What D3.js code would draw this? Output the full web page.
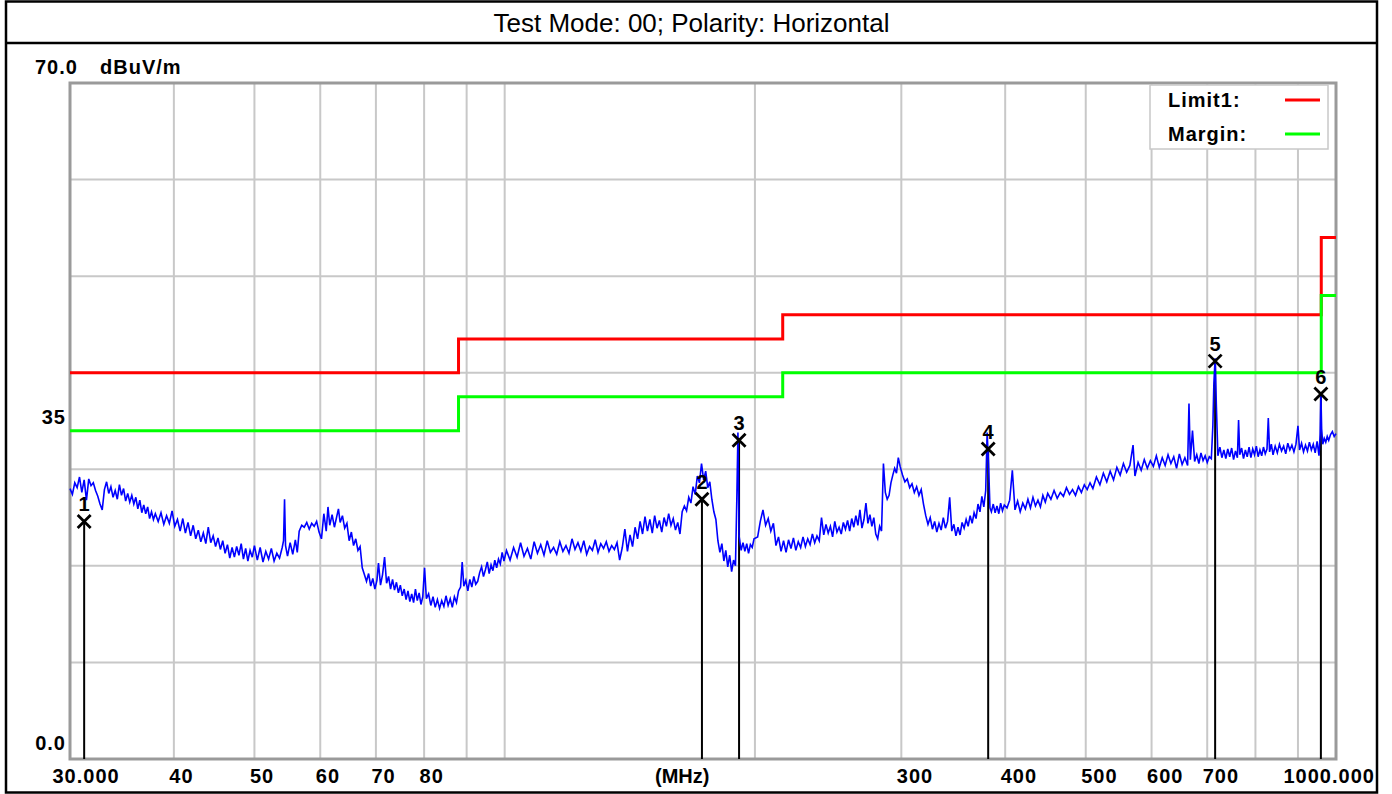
<!DOCTYPE html>
<html>
<head>
<meta charset="utf-8">
<script src="https://cdn.jsdelivr.net/npm/d3@7"></script>
<style>
  body { margin: 0; background: #fff; }
  text { font-family: "Liberation Sans", Arial, sans-serif; }
</style>
</head>
<body>
<div id="chart"></div>
<script>
var chartTitle = 'Test Mode: 00; Polarity: Horizontal';
var unitLabel = 'dBuV/m';
var freqUnit = '(MHz)';

var freqTicks = [30, 40, 50, 60, 70, 80, 300, 400, 500, 600, 700, 1000];
var freqTickLabels = ['30.000', '40', '50', '60', '70', '80', '300', '400', '500', '600', '700', '1000.000'];
var freqGrid = [40, 50, 60, 70, 80, 90, 100, 200, 300, 400, 500, 600, 700, 800, 900];
var levelGrid = [10, 20, 30, 40, 50, 60];
var levelTicks = [70, 35, 0];
var levelTickLabels = ['70.0', '35', '0.0'];

// limit / margin steps: [MHz, dBuV/m], step after
var limit1 = [[30, 40], [88, 43.5], [216, 46], [960, 54], [1000, 54]];
var margin = [[30, 34], [88, 37.5], [216, 40], [960, 48], [1000, 48]];

var markerIds = ['1', '2', '3', '4', '5', '6'];
var markerFreq = [31.2, 172.7, 191.4, 381.6, 715.5, 959];
var markerLevel = [24.6, 26.9, 33.0, 32.1, 41.2, 37.8];

var legendNames = ['Limit1:', 'Margin:'];
var legendColors = ['#ff0000', '#00ff00'];

var trace = [
  [30.0,28.0],[30.2,27.4],[30.4,28.6],[30.6,28.1],[30.8,29.2],[31.0,27.6],[31.2,28.9],[31.4,26.8],[31.6,29.0],[31.8,28.3],
  [32.0,28.6],[32.2,27.8],[32.4,27.2],[32.6,26.4],[32.8,25.8],[33.0,27.9],[33.2,28.7],[33.4,27.5],[33.6,28.2],[33.8,27.1],
  [34.0,27.8],[34.2,26.9],[34.4,28.4],[34.6,27.3],[34.8,28.0],[35.0,26.7],[35.2,27.5],[35.4,26.6],[35.6,27.3],[35.8,26.4],
  [36.0,27.1],[36.2,25.9],[36.4,26.8],[36.6,25.5],[36.8,26.3],[37.0,25.4],[37.2,26.1],[37.4,24.9],[37.6,25.6],[37.8,24.8],
  [38.0,25.4],[38.3,24.6],[38.6,25.5],[38.9,24.3],[39.2,25.2],[39.5,24.4],[39.8,25.7],[40.1,24.1],
  [40.4,24.8],[40.7,23.6],[41.0,24.9],[41.3,23.4],[41.6,24.5],[41.9,23.1],[42.2,24.2],[42.5,22.8],[42.8,23.7],[43.1,22.5],
  [43.4,23.4],[43.7,22.3],[44.0,24.0],[44.3,22.4],[44.6,23.1],[44.9,22.0],[45.2,22.9],[45.5,21.7],[45.8,22.6],[46.1,21.3],
  [46.4,22.2],[46.7,20.8],[47.0,21.9],[47.3,20.9],[47.6,22.0],[47.9,21.1],[48.2,22.3],[48.5,20.7],[48.8,21.8],[49.1,20.5],
  [49.4,21.6],[49.7,20.9],[50.0,22.1],
  [50.4,20.6],[50.8,21.9],[51.2,20.4],[51.6,21.5],[52.0,20.7],[52.4,21.8],[52.8,20.5],[53.2,21.3],[53.6,20.8],[54.0,21.9],
  [54.2,22.6],[54.35,26.9],[54.5,22.1],[54.8,21.0],[55.2,22.4],[55.6,21.2],[56.0,22.7],[56.3,21.4],[56.6,23.6],[57.0,24.2],
  [57.4,24.0],[57.8,24.5],[58.2,23.8],[58.6,24.4],[59.0,24.1],[59.4,24.6],[59.8,23.5],
  [60.2,22.8],[60.6,25.4],[61.0,23.6],[61.3,26.1],[61.6,24.2],[62.0,25.3],[62.4,24.0],[62.8,25.1],[63.1,25.9],[63.4,24.5],
  [63.8,25.2],[64.2,23.9],[64.6,24.4],[65.0,22.6],[65.4,23.5],[65.8,22.1],[66.2,22.8],[66.6,21.6],[67.0,22.0],[67.4,19.8],
  [67.8,19.1],[68.2,18.4],[68.6,19.2],[69.0,17.9],[69.4,18.7],[69.8,17.6],
  [70.2,18.5],[70.5,20.3],[70.9,18.0],[71.3,19.1],[71.7,20.9],[72.1,18.2],[72.5,18.9],[72.9,17.6],[73.3,18.6],[73.7,17.5],
  [74.1,18.3],[74.5,17.2],[74.9,18.0],[75.3,16.9],[75.7,17.6],[76.1,16.5],[76.5,17.4],[76.9,16.3],[77.3,17.1],[77.7,16.2],
  [78.1,17.6],[78.5,16.4],[78.9,17.2],[79.3,16.0],[79.7,16.8],[80.1,19.8],
  [80.5,16.6],[81.0,17.1],[81.5,15.9],[82.0,16.8],[82.5,15.7],[83.0,16.5],[83.5,15.6],[84.0,16.4],[84.5,15.8],[85.0,16.9],
  [85.5,15.9],[86.0,16.6],[86.5,15.7],[87.0,16.8],[87.5,16.2],[88.0,17.4],[88.5,17.8],[88.9,20.4],[89.3,17.9],[89.8,18.5],
  [90.3,17.4],[90.8,18.6],[91.3,17.8],[91.8,18.9],[92.3,18.1],[92.8,18.4],[93.3,19.3],[93.8,19.9],[94.3,18.9],[94.8,19.6],
  [95.3,20.4],[95.8,19.2],[96.3,20.1],[96.8,19.5],[97.3,20.6],[97.8,19.8],[98.3,20.7],[98.8,20.2],[99.3,21.4],[99.8,20.5],
  [100.5,21.6],[101.5,20.6],[102.5,21.9],[103.5,20.9],[104.5,22.4],[105.5,21.0],[106.5,21.8],[107.5,20.7],[108.5,22.5],[109.5,21.3],
  [110.5,22.2],[111.5,21.1],[112.5,22.6],[113.5,21.4],[114.5,21.9],[115.5,21.2],[116.5,22.5],[117.5,21.5],[118.5,22.1],[119.5,21.3],
  [120.5,22.8],[121.5,21.7],[122.5,22.4],[123.5,21.5],[124.5,22.6],[125.5,21.2],[126.5,22.0],[127.5,21.6],[128.5,22.7],[129.5,21.4],
  [130.5,22.3],[131.5,21.8],[132.5,22.5],[133.5,21.5],[134.5,22.1],[135.5,21.7],[136.5,22.4],[137.5,20.6],[138.5,21.9],[139.5,23.8],
  [140.5,21.5],[141.5,23.2],[142.5,22.0],[143.5,24.0],[144.5,22.8],[145.5,24.6],[146.5,23.3],[147.5,25.1],[148.5,23.6],[149.5,24.8],
  [150.5,23.4],[151.5,25.2],[152.5,23.9],[153.5,24.7],[154.5,23.5],[155.5,25.0],[156.5,24.1],[157.5,25.4],[158.5,24.2],[159.5,24.9],
  [160.5,23.7],[161.5,24.5],[162.5,23.3],[163.5,25.6],[164.5,26.2],[165.5,25.7],[166.5,27.1],[167.5,26.5],[168.5,28.2],[169.5,27.4],
  [170.5,29.3],[171.5,28.6],[172.5,30.6],[173.5,28.9],[174.5,29.8],[175.5,28.1],[176.5,28.7],[177.5,26.9],[178.5,25.6],[179.5,24.8],
  [180.5,22.6],[181.5,21.4],[182.5,22.3],[183.5,20.5],[184.5,21.6],[185.5,19.9],[186.5,21.1],[187.5,19.4],[188.5,20.6],[189.5,20.0],
  [190.2,26.8],[190.8,33.8],[191.4,23.1],[192.5,21.6],[193.5,22.4],[194.5,21.5],[195.5,22.3],[196.5,21.3],[197.5,22.2],[198.5,21.9],
  [199.5,22.8],
  [201.5,23.0],[203.0,24.6],[204.5,25.8],[206.0,24.2],[207.5,24.9],[209.0,23.6],[210.5,24.4],[212.0,22.1],[213.5,23.0],[215.0,21.5],
  [216.5,22.6],[218.0,21.4],[219.5,22.7],[221.0,21.8],[222.5,22.9],[224.0,21.6],[225.5,22.5],[227.0,21.9],[228.5,23.0],[230.0,22.0],
  [231.5,22.8],[233.0,22.2],[234.5,23.3],[236.0,22.4],[237.5,23.1],[239.0,22.6],[240.5,25.0],[242.0,23.2],[243.5,24.3],[245.0,23.4],
  [246.5,24.1],[248.0,23.0],[249.5,24.6],[251.0,23.5],[252.5,24.0],[254.0,23.3],[255.5,24.5],[257.0,23.8],[258.5,24.7],[260.0,23.6],
  [261.5,24.9],[263.0,24.0],[264.5,25.2],[266.0,24.2],[267.5,25.8],[269.0,23.9],[270.5,24.8],[272.0,26.5],[273.5,24.4],[275.0,25.3],
  [276.5,24.1],[278.0,25.0],[279.5,23.3],[281.0,22.8],[282.5,24.1],[284.0,23.6],[285.5,30.6],[287.0,27.6],[288.5,26.9],[290.0,27.3],
  [291.5,28.6],[293.0,29.4],[294.5,30.1],[296.0,29.6],[297.5,31.2],[299.0,30.3],
  [301,29.4],[303,28.7],[305,29.0],[307,28.1],[309,28.5],[311,27.6],[313,28.2],[315,27.3],[317,27.9],[319,26.4],
  [321,25.2],[323,24.3],[325,25.0],[327,23.8],[329,24.6],[331,23.5],[333,24.4],[335,23.7],[337,25.0],[339,23.9],
  [341,24.6],[343,27.1],[345,23.6],[347,24.3],[349,23.1],[351,24.0],[353,23.2],[355,24.5],[357,23.9],[359,24.8],
  [361,24.1],[363,25.2],[365,24.4],[367,25.5],[369,24.9],[371,26.4],[373,25.6],[375,27.2],[377,26.1],[379,27.8],
  [380.5,33.8],[382,30.5],[383.5,26.0],[385,25.6],[387,26.4],[389,25.5],[391,26.2],[393,25.4],[395,26.5],[397,25.7],
  [399,26.3],
  [402,26.0],[405,26.8],[408,29.9],[411,25.8],[414,26.7],[417,25.6],[420,26.5],[423,25.9],[426,26.9],[429,26.0],
  [432,27.1],[435,26.2],[438,26.8],[441,26.1],[444,27.3],[447,26.6],[450,27.5],[454,26.9],[458,27.8],[462,27.0],
  [466,27.6],[470,27.2],[474,28.1],[478,27.4],[482,27.9],[486,27.3],[490,28.2],[494,27.6],[498,28.4],[502,27.9],
  [506,28.6],[510,28.0],[515,29.2],[520,28.4],[525,29.6],[530,28.7],[535,29.8],[540,28.9],[545,30.2],[550,29.4],
  [555,30.6],[560,29.7],[565,30.4],[570,32.5],[573,29.3],[578,30.7],[583,29.9],[588,31.0],[593,30.1],[598,30.9],
  [603,30.3],[608,31.4],[613,30.2],[618,31.2],[623,30.4],[628,31.5],[633,30.6],[638,31.3],[643,30.1],[648,31.6],
  [653,30.5],[658,31.2],[663,30.4],[665.5,36.8],[668,31.0],[672,34.0],[676,30.8],[680,31.5],[684,30.6],[688,31.7],
  [692,30.9],[696,31.4],[700,30.7],[704,31.3],[708,31.1],[711,34.5],[713,38.9],[715.5,41.5],[718,36.5],[721,31.4],
  [725,32.3],[729,31.2],[733,32.0],[737,31.1],[741,32.1],[745,31.3],[749,32.2],[753,31.0],[757,31.9],[761,31.2],
  [763.5,35.1],[766,31.5],[770,32.2],[774,31.1],[778,32.0],[782,31.3],[786,32.3],[790,31.2],[794,32.1],[798,31.5],
  [802,32.4],[806,31.3],[810,32.0],[814,31.4],[818,32.3],[822,31.6],[826,32.1],[829,35.3],[832,31.8],[836,32.6],
  [840,31.5],[845,32.4],[850,31.7],[855,32.6],[860,31.9],[865,32.4],[870,31.6],[875,32.7],[880,32.0],[885,32.5],
  [890,31.8],[895,32.6],[900,34.5],[904,32.0],[909,32.7],[914,31.8],[919,32.5],[924,31.9],[929,32.8],[934,32.0],
  [939,32.6],[944,31.7],[949,32.9],[954,31.4],[957,33.6],[959,37.9],[961,34.2],[964,32.6],[968,33.2],[972,32.8],
  [976,33.4],[980,33.0],[985,33.6],[990,33.9],[995,33.4],[1000,33.7]
];

var emiChart = (function() {
  var width = 1392, height = 794;
  var plot = { left: 70, right: 1336, top: 83, bottom: 759 };

  var svg = d3.select('#chart')
    .append('svg')
    .attr('width', width)
    .attr('height', height);

  var x = d3.scaleLog().domain([30, 1000]).range([plot.left, plot.right]);
  var y = d3.scaleLinear().domain([0, 70]).range([plot.bottom, plot.top]);

  return {
    drawFrame: function() {
      svg.append('text')
        .attr('x', 691.5).attr('y', 23)
        .attr('text-anchor', 'middle')
        .attr('dominant-baseline', 'central')
        .attr('font-size', 26)
        .text(chartTitle);

      // grid
      svg.append('g').selectAll('line')
        .data(freqGrid)
        .enter().append('line')
        .attr('x1', function(d) { return x(d); })
        .attr('x2', function(d) { return x(d); })
        .attr('y1', plot.top).attr('y2', plot.bottom)
        .attr('stroke', '#c8c8c8').attr('stroke-width', 2);
      svg.append('g').selectAll('line')
        .data(levelGrid)
        .enter().append('line')
        .attr('y1', function(d) { return y(d); })
        .attr('y2', function(d) { return y(d); })
        .attr('x1', plot.left).attr('x2', plot.right)
        .attr('stroke', '#c8c8c8').attr('stroke-width', 2);

      svg.append('rect')
        .attr('x', plot.left).attr('y', plot.top)
        .attr('width', plot.right - plot.left)
        .attr('height', plot.bottom - plot.top)
        .attr('fill', 'none')
        .attr('stroke', '#9a9a9a').attr('stroke-width', 3);

      // x axis labels
      var xAxis = d3.axisBottom(x)
        .tickValues(freqTicks)
        .tickSize(0)
        .tickFormat(function(d, i) { return freqTickLabels[i]; });
      var gx = svg.append('g')
        .attr('transform', 'translate(0,' + plot.bottom + ')')
        .call(xAxis);
      gx.select('.domain').remove();
      gx.selectAll('text')
        .attr('font-family', '"Liberation Sans", Arial, sans-serif')
        .attr('font-size', 20)
        .attr('font-weight', 'bold')
        .attr('letter-spacing', 1)
        .attr('fill', '#000')
        .attr('text-anchor', 'start')
        .attr('dy', null)
        .attr('y', 17)
        .attr('dominant-baseline', 'central')
        .attr('x', function(d) {
          if (d === 30) return -18;
          if (d === 1000) return -53;
          return -5;
        });

      svg.append('text')
        .attr('x', 655).attr('y', plot.bottom + 17)
        .attr('dominant-baseline', 'central')
        .attr('font-size', 20).attr('font-weight', 'bold')
        .text(freqUnit);

      // y labels sit a little above their level
      svg.append('g').selectAll('text')
        .data(levelTicks)
        .enter().append('text')
        .attr('x', function(d) { return d === 70 ? 35 : 66; })
        .attr('y', function(d) { return d === 35 ? y(d) - 4 : y(d) - 16; })
        .attr('text-anchor', function(d) { return d === 70 ? 'start' : 'end'; })
        .attr('dominant-baseline', 'central')
        .attr('font-size', 20).attr('font-weight', 'bold')
        .attr('letter-spacing', 1)
        .text(function(d, i) { return levelTickLabels[i]; });
      svg.append('text')
        .attr('x', 100).attr('y', y(70) - 16)
        .attr('dominant-baseline', 'central')
        .attr('font-size', 20).attr('font-weight', 'bold')
        .attr('letter-spacing', 1)
        .text(unitLabel);
    },

    drawLimits: function() {
      var line = d3.line()
        .x(function(d) { return x(d[0]); })
        .y(function(d) { return y(d[1]); })
        .curve(d3.curveStepAfter);
      svg.append('path').datum(limit1)
        .attr('fill', 'none').attr('stroke', legendColors[0]).attr('stroke-width', 3)
        .attr('d', line);
      svg.append('path').datum(margin)
        .attr('fill', 'none').attr('stroke', legendColors[1]).attr('stroke-width', 3)
        .attr('d', line);
    },

    drawTrace: function() {
      // marker stems go under the trace
      svg.append('g').selectAll('line')
        .data(markerFreq)
        .enter().append('line')
        .attr('x1', function(d) { return x(d); })
        .attr('x2', function(d) { return x(d); })
        .attr('y1', function(d, i) { return y(markerLevel[i]); })
        .attr('y2', plot.bottom)
        .attr('stroke', '#000').attr('stroke-width', 2);

      var line = d3.line()
        .x(function(d) { return x(d[0]); })
        .y(function(d) { return y(d[1]); });
      svg.append('path').datum(trace)
        .attr('fill', 'none')
        .attr('stroke', '#0000ff')
        .attr('stroke-width', 1.6)
        .attr('d', line);

      var mk = svg.append('g').selectAll('g')
        .data(markerFreq)
        .enter().append('g')
        .attr('transform', function(d, i) {
          return 'translate(' + x(d) + ',' + y(markerLevel[i]) + ')';
        });
      mk.append('path')
        .attr('d', 'M-6.5,-6.5L6.5,6.5M-6.5,6.5L6.5,-6.5')
        .attr('stroke', '#000').attr('stroke-width', 2.8)
        .attr('fill', 'none');
      mk.append('text')
        .attr('y', -17)
        .attr('text-anchor', 'middle')
        .attr('dominant-baseline', 'central')
        .attr('font-size', 20)
        .attr('font-weight', 'bold')
        .text(function(d, i) { return markerIds[i]; });
    },

    drawLegend: function() {
      svg.append('rect')
        .attr('x', 1150).attr('y', 85)
        .attr('width', 178).attr('height', 64)
        .attr('fill', '#fff')
        .attr('stroke', '#c8c8c8').attr('stroke-width', 1.5);
      var row = svg.append('g').selectAll('g')
        .data(legendNames)
        .enter().append('g')
        .attr('transform', function(d, i) { return 'translate(0,' + (100 + i * 34) + ')'; });
      row.append('text')
        .attr('x', 1168)
        .attr('dominant-baseline', 'central')
        .attr('font-size', 20).attr('font-weight', 'bold')
        .attr('letter-spacing', 1)
        .text(function(d) { return d; });
      row.append('line')
        .attr('x1', 1285).attr('x2', 1320)
        .attr('stroke', function(d, i) { return legendColors[i]; })
        .attr('stroke-width', 3);
    },

    drawBorder: function() {
      svg.append('rect')
        .attr('x', 6).attr('y', 1.5)
        .attr('width', 1371).attr('height', 791)
        .attr('fill', 'none')
        .attr('stroke', '#000').attr('stroke-width', 2.5);
      svg.append('line')
        .attr('x1', 6).attr('x2', 1377)
        .attr('y1', 43).attr('y2', 43)
        .attr('stroke', '#000').attr('stroke-width', 2.5);
    }
  };
})();

emiChart.drawFrame();
emiChart.drawLimits();
emiChart.drawTrace();
emiChart.drawLegend();
emiChart.drawBorder();
</script>
</body>
</html>
